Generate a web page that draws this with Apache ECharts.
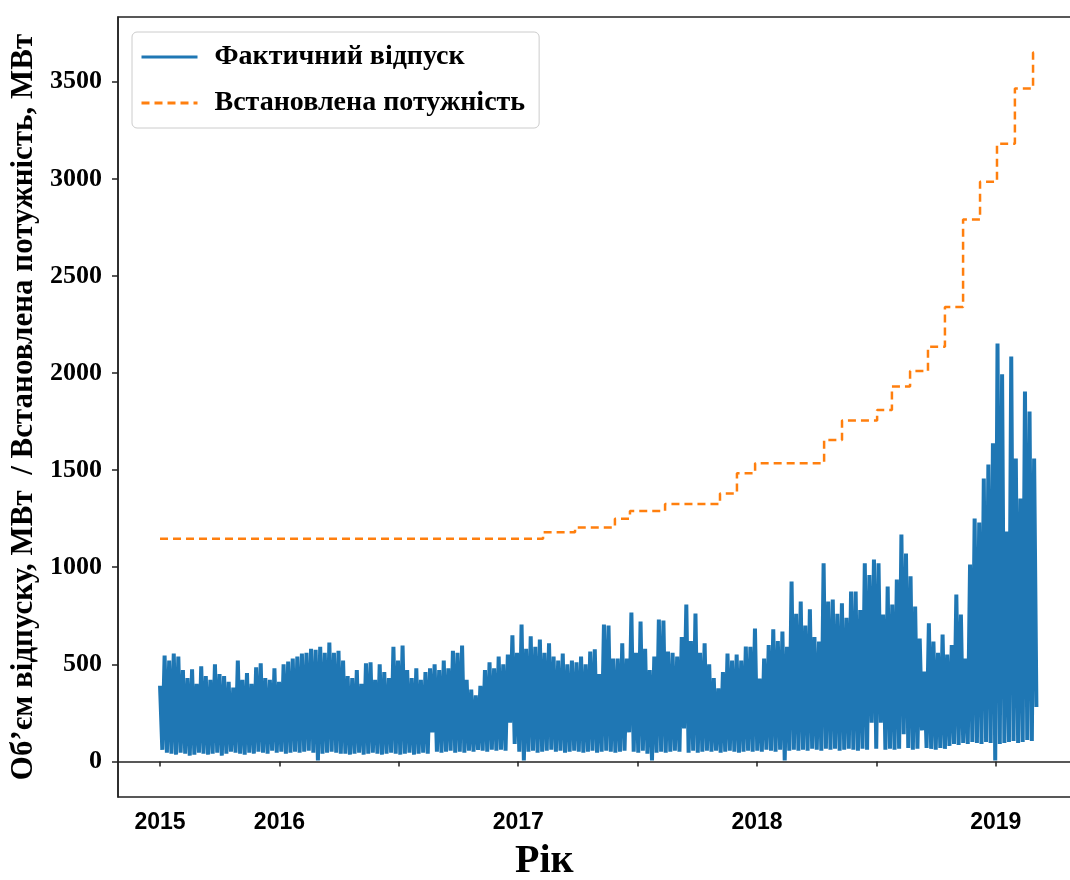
<!DOCTYPE html>
<html>
<head>
<meta charset="utf-8">
<script src="https://cdn.jsdelivr.net/npm/echarts@6/dist/echarts.min.js"></script>
<style>
  html, body { margin: 0; padding: 0; background: #fff; }
  #chart { width: 1070px; height: 880px; }
</style>
</head>
<body>
<div id="chart"></div>
<script>
var blueStart = 2015.5;
var blueStep = 7 / 365.25;
var peakValues = [
  390, 545, 520, 555, 540, 470, 430, 475, 400, 490,
  440, 420, 500, 450, 440, 410, 380, 520, 420, 455,
  400, 485, 505, 430, 420, 480, 410, 500, 515, 530,
  540, 555, 560, 580, 575, 590, 560, 612, 560, 570,
  520, 440, 430, 470, 400, 505, 510, 420, 500, 460,
  430, 590, 520, 597, 470, 430, 480, 420, 460, 480,
  500, 470, 520, 480, 570, 560, 597, 420, 370, 340,
  390, 470, 510, 480, 540, 500, 550, 650, 560, 705,
  580, 644, 590, 628, 560, 608, 540, 520, 556, 500,
  520, 510, 540, 500, 566, 577, 450, 705, 700, 530,
  530, 608, 530, 767, 560, 721, 580, 470, 540, 731,
  725, 566, 560, 540, 640, 808, 620, 762, 560, 608,
  500, 430, 376, 460, 556, 520, 550, 520, 592, 590,
  685, 427, 530, 600, 680, 620, 669, 590, 927, 760,
  824, 700, 783, 640, 618, 1020, 824, 834, 760, 814,
  740, 875, 875, 780, 1020, 960, 1040, 1020, 757, 901,
  808, 937, 1169, 1071, 953, 798, 633, 463, 711, 618,
  560, 654, 551, 600, 860, 757, 530, 1014, 1251, 1230,
  1457, 1529, 1638, 2152, 1993, 1184, 2085, 1560, 1354, 1905,
  1802, 1560
];
var troughValues = [
  60, 45, 40, 35, 45, 40, 30, 35, 45, 40,
  35, 40, 45, 30, 40, 50, 45, 40, 35, 45,
  40, 50, 45, 40, 55, 45, 50, 40, 45, 50,
  45, 50, 55, 45, 5, 40, 45, 50, 45, 40,
  40, 35, 40, 45, 35, 40, 45, 40, 35, 40,
  45, 40, 35, 40, 45, 35, 40, 45, 40, 150,
  50, 45, 50, 55, 45, 50, 45, 55, 50, 60,
  55, 50, 60, 55, 60, 55, 200, 90, 50, 5,
  50, 55, 45, 50, 55, 60, 50, 55, 45, 50,
  55, 50, 45, 50, 55, 45, 50, 55, 50, 45,
  50, 55, 150, 50, 45, 55, 40, 5, 45, 50,
  45, 50, 55, 50, 170, 45, 55, 45, 50, 55,
  50, 55, 45, 50, 55, 50, 45, 50, 55, 50,
  55, 50, 60, 55, 50, 60, 5, 55, 60, 55,
  60, 55, 65, 60, 55, 65, 60, 65, 55, 60,
  65, 60, 55, 65, 60, 200, 65, 200, 60, 65,
  60, 65, 140, 70, 60, 65, 160, 70, 65, 60,
  70, 65, 80, 90, 85, 95, 90, 100, 95, 90,
  100, 95, 5, 90, 95, 100, 105, 95, 100, 110,
  105, 280
];

// installed capacity steps (MW)
var capacityDates = [2015.500, 2017.104, 2017.238, 2017.405, 2017.468, 2017.615, 2017.845,
  2017.916, 2017.992, 2018.281, 2018.356, 2018.503, 2018.565, 2018.641, 2018.716,
  2018.787, 2018.863, 2018.934, 2019.005, 2019.080, 2019.156, 2019.168];
var capacityValues = [1147, 1180, 1205, 1250, 1290, 1325, 1380,
  1484, 1535, 1655, 1755, 1810, 1930, 2010, 2135,
  2340, 2790, 2985, 3180, 3465, 3650, 3650];

var xTickValues = [2015.5, 2016, 2016.5, 2017, 2017.5, 2018, 2018.5, 2019];
var xTickLabels = ['2015', '2016', '', '2017', '', '2018', '', '2019'];
var yTickValues = [0, 500, 1000, 1500, 2000, 2500, 3000, 3500];

var seriesNames = ['Фактичний відпуск', 'Встановлена потужність'];

var blueData = [];
for (var i = 0; i < peakValues.length; i++) {
  var t = blueStart + i * blueStep;
  blueData.push([t, peakValues[i]]);
  blueData.push([t + blueStep / 2, troughValues[i]]);
}
var capData = capacityDates.map(function (d, i) { return [d, capacityValues[i]]; });

var serif = "'Liberation Serif', 'DejaVu Serif', serif";
var sans = "'Liberation Sans', Arial, sans-serif";

var chart = echarts.init(document.getElementById('chart'), null, { renderer: 'canvas' });
chart.setOption({
  animation: false,
  backgroundColor: '#fff',
  grid: {
    left: 118, top: 17, width: 964, height: 780,
    outerBoundsMode: 'none',
    show: true, borderColor: '#222', borderWidth: 1.5, backgroundColor: 'transparent'
  },
  legend: {
    orient: 'vertical',
    left: 132, top: 32,
    padding: [11, 14, 11, 8],
    itemWidth: 56, itemHeight: 14, itemGap: 18,
    itemStyle: { opacity: 0 },
    lineStyle: { width: 3 },
    backgroundColor: 'rgba(255,255,255,0.85)',
    borderColor: '#cccccc', borderWidth: 1, borderRadius: 5,
    textStyle: { fontFamily: serif, fontWeight: 'bold', fontSize: 28, color: '#000', padding: [0, 0, 0, 12] },
    data: seriesNames
  },
  xAxis: {
    type: 'value',
    min: 2015.324, max: 2019.361,
    splitLine: { show: false },
    axisLine: { lineStyle: { color: '#222', width: 1.5 } },
    axisTick: { customValues: xTickValues, length: 5, lineStyle: { color: '#222', width: 1.5 } },
    axisLabel: {
      customValues: xTickValues,
      margin: 14,
      fontFamily: sans, fontWeight: 'bold', fontSize: 23, color: '#000',
      formatter: function (v) {
        var k = xTickValues.indexOf(v);
        return k >= 0 ? xTickLabels[k] : '';
      }
    }
  },
  yAxis: {
    type: 'value',
    min: -183, max: 3833,
    name: 'Об’єм відпуску, МВт  / Встановлена потужність, МВт',
    nameLocation: 'middle',
    nameGap: 79,
    nameTextStyle: { fontFamily: serif, fontWeight: 'bold', fontSize: 31, color: '#000' },
    splitLine: { show: false },
    axisLine: { lineStyle: { color: '#222', width: 1.5 } },
    axisTick: { customValues: yTickValues, length: 6, lineStyle: { color: '#222', width: 1.5 } },
    axisLabel: {
      customValues: yTickValues,
      margin: 16,
      fontFamily: serif, fontWeight: 'bold', fontSize: 26, color: '#000',
      formatter: function (v) { return String(v); }
    }
  },
  graphic: [{
    type: 'text',
    left: 515, top: 842,
    style: { text: 'Рік', font: 'bold 40px ' + serif, fill: '#000' }
  }],
  series: [
    {
      name: seriesNames[0],
      type: 'line',
      data: blueData,
      symbol: 'none',
      color: '#1f77b4',
      lineStyle: { color: '#1f77b4', width: 4, join: 'bevel' },
      clip: true,
      z: 2
    },
    {
      name: seriesNames[1],
      type: 'line',
      data: capData,
      step: 'end',
      symbol: 'none',
      color: '#ff7f0e',
      lineStyle: { color: '#ff7f0e', width: 2.5, type: [8, 5] },
      clip: true,
      z: 3
    }
  ]
});
</script>
</body>
</html>
